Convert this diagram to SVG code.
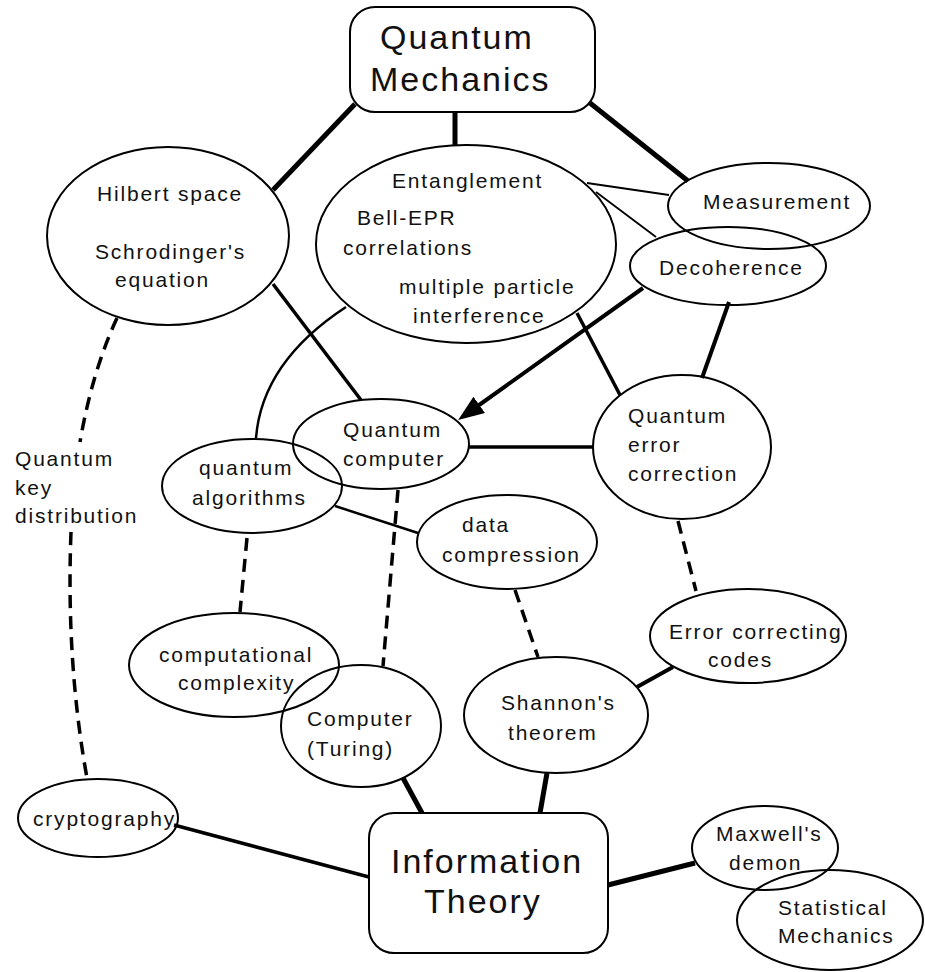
<svg xmlns="http://www.w3.org/2000/svg" width="925" height="972" viewBox="0 0 925 972">
<style>
  .bg{fill:#ffffff}
  .n ellipse,.n rect{fill:none;stroke:#000;stroke-width:2}
  text{font-family:"Liberation Sans",Arial,Helvetica,sans-serif;font-size:21px;letter-spacing:1.8px;fill:#111}
  .big{font-size:34px;letter-spacing:2px}
  .c path,.c line{fill:none;stroke:#000;stroke-linecap:butt}
  .w5{stroke-width:5}
  .w4{stroke-width:4}
  .w3{stroke-width:3.5}
  .w2{stroke-width:2.5}
  .w1{stroke-width:1.8}
  .d{stroke-dasharray:13 8;stroke-width:3.5}
</style>
<defs>
  <marker id="ah" viewBox="0 0 26 20" refX="20" refY="10" markerWidth="26" markerHeight="20" markerUnits="userSpaceOnUse" orient="auto">
    <path d="M0,0 L26,10 L0,20 z" fill="#000"/>
  </marker>
</defs>
<rect class="bg" x="0" y="0" width="925" height="972"/>
<g id="connectors" class="c">
  <line class="w5" x1="355" y1="104" x2="273" y2="190"/>
  <line class="w5" x1="455" y1="112" x2="455" y2="145"/>
  <line class="w5" x1="590" y1="103" x2="688" y2="181"/>
  <line class="w3" x1="273" y1="284" x2="361" y2="400"/>
  <line class="w1" x1="587" y1="183" x2="669" y2="195"/>
  <line class="w1" x1="596" y1="192" x2="656" y2="237"/>
  <line class="w4" x1="643" y1="288" x2="463" y2="416.5" marker-end="url(#ah)"/>
  <line class="w3" x1="577" y1="313" x2="620" y2="395"/>
  <line class="w4" x1="729" y1="302" x2="702" y2="378"/>
  <line class="w3" x1="469" y1="447" x2="593" y2="447"/>
  <path class="w2" d="M346,307 Q262,362 256,438"/>
  <line class="w2" x1="335" y1="506" x2="418" y2="533"/>
  <line class="d" x1="247" y1="538" x2="240" y2="612"/>
  <path class="d" d="M398,490 L383,666"/>
  <line class="d" x1="515" y1="590" x2="538" y2="657"/>
  <line class="d" x1="678" y1="521" x2="696" y2="591"/>
  <line class="w4" x1="673" y1="667" x2="637" y2="687"/>
  <line class="w5" x1="547" y1="773" x2="540" y2="813"/>
  <line class="w5" x1="403" y1="778" x2="422" y2="813"/>
  <line class="w3" x1="174" y1="825" x2="369" y2="877"/>
  <line class="w5" x1="608" y1="885" x2="695" y2="863"/>
  <path class="d" d="M117,318 Q92,372 80,442"/>
  <path class="d" d="M71,532 Q66,662 87,778"/>
</g>
<g id="quantum-mechanics" class="n">
  <rect x="350" y="7" width="245" height="105" rx="25"/>
  <text class="big" x="380" y="49">Quantum</text>
  <text class="big" x="370" y="91">Mechanics</text>
</g>
<g id="hilbert" class="n">
  <ellipse cx="168" cy="236" rx="121" ry="89"/>
  <text x="97" y="201">Hilbert space</text>
  <text x="95" y="259">Schrodinger's</text>
  <text x="115" y="287">equation</text>
</g>
<g id="entanglement" class="n">
  <ellipse cx="466" cy="244" rx="150" ry="99"/>
  <text x="392" y="188">Entanglement</text>
  <text x="357" y="225">Bell-EPR</text>
  <text x="343" y="255">correlations</text>
  <text x="399" y="294">multiple particle</text>
  <text x="413" y="323">interference</text>
</g>
<g id="measurement" class="n">
  <ellipse cx="769" cy="206" rx="101" ry="43"/>
  <text x="703" y="209">Measurement</text>
</g>
<g id="decoherence" class="n">
  <ellipse cx="728" cy="266" rx="98" ry="39"/>
  <text x="659" y="275">Decoherence</text>
</g>
<g id="quantum-computer" class="n">
  <ellipse cx="381" cy="444" rx="88" ry="45"/>
  <text x="343" y="437">Quantum</text>
  <text x="343" y="466">computer</text>
</g>
<g id="quantum-algorithms" class="n">
  <ellipse cx="252" cy="486" rx="90" ry="47"/>
  <text x="199" y="475">quantum</text>
  <text x="192" y="505">algorithms</text>
</g>
<g id="quantum-error-correction" class="n">
  <ellipse cx="682" cy="447" rx="89" ry="72"/>
  <text x="628" y="423">Quantum</text>
  <text x="628" y="452">error</text>
  <text x="628" y="481">correction</text>
</g>
<g id="data-compression" class="n">
  <ellipse cx="507" cy="542" rx="90" ry="47"/>
  <text x="462" y="532">data</text>
  <text x="442" y="562">compression</text>
</g>
<g id="computational-complexity" class="n">
  <ellipse cx="234" cy="665" rx="105" ry="52"/>
  <text x="159" y="662">computational</text>
  <text x="178" y="690">complexity</text>
</g>
<g id="computer-turing" class="n">
  <ellipse cx="361" cy="726" rx="80" ry="61"/>
  <text x="307" y="726">Computer</text>
  <text x="307" y="756">(Turing)</text>
</g>
<g id="cryptography" class="n">
  <ellipse cx="98" cy="818" rx="80" ry="39"/>
  <text x="33" y="826">cryptography</text>
</g>
<g id="shannon" class="n">
  <ellipse cx="556" cy="715" rx="92" ry="58"/>
  <text x="501" y="710">Shannon's</text>
  <text x="508" y="740">theorem</text>
</g>
<g id="error-correcting-codes" class="n">
  <ellipse cx="748" cy="636" rx="98" ry="47"/>
  <text x="669" y="639">Error correcting</text>
  <text x="708" y="667">codes</text>
</g>
<g id="maxwell" class="n">
  <ellipse cx="765" cy="848" rx="73" ry="42"/>
  <text x="716" y="841">Maxwell's</text>
  <text x="729" y="870">demon</text>
</g>
<g id="statistical-mechanics" class="n">
  <ellipse cx="830" cy="920" rx="93" ry="50"/>
  <text x="778" y="915">Statistical</text>
  <text x="778" y="943">Mechanics</text>
</g>
<g id="information-theory" class="n">
  <rect x="369" y="813" width="239" height="140" rx="25"/>
  <text class="big" x="391" y="873">Information</text>
  <text class="big" x="424" y="913">Theory</text>
</g>
<g id="qkd-label">
  <text x="15" y="466">Quantum</text>
  <text x="15" y="495">key</text>
  <text x="15" y="523">distribution</text>
</g>
</svg>
